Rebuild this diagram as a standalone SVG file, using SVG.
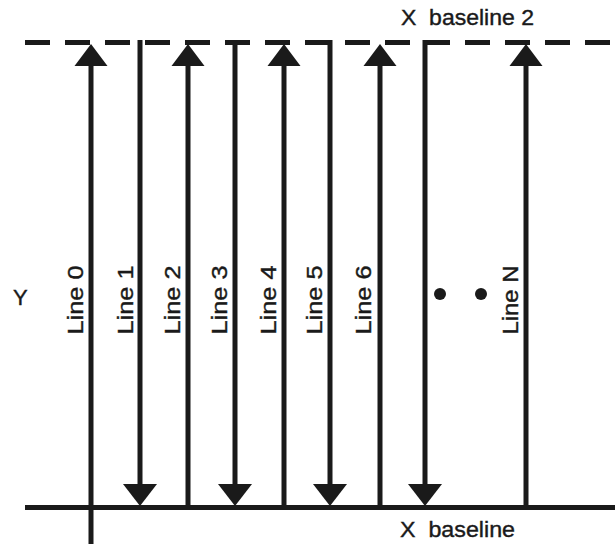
<svg xmlns="http://www.w3.org/2000/svg" width="615" height="544" viewBox="0 0 615 544">
<style>
.ln{stroke:#1a1a1a;stroke-width:5;fill:none}
.ah{fill:#1a1a1a}
.t{font-family:"Liberation Sans",Arial,sans-serif;font-size:22px;fill:#1a1a1a;stroke:#1a1a1a;stroke-width:0.4}
.lab{font-family:"Liberation Sans",Arial,sans-serif;font-size:22px;fill:#1a1a1a;stroke:#1a1a1a;stroke-width:0.4;text-anchor:middle}
</style>
<rect width="615" height="544" fill="#ffffff"/>
<g id="baselines">
<line class="ln" x1="25" y1="42.5" x2="615" y2="42.5" stroke-dasharray="25 15"/>
<line class="ln" x1="25" y1="507.5" x2="615" y2="507.5"/>
<text class="t" x="401" y="25" textLength="133" lengthAdjust="spacingAndGlyphs" xml:space="preserve">X  baseline 2</text>
<text class="t" x="400" y="537" textLength="115" lengthAdjust="spacingAndGlyphs" xml:space="preserve">X  baseline</text>
<text class="t" x="13" y="305">Y</text>
</g>
<g id="connectors">
<g id="line0"><line class="ln" x1="91" y1="544" x2="91" y2="64"/><polygon class="ah" points="91,44 74.5,66 107.5,66"/></g>
<g id="line1"><line class="ln" x1="140" y1="40" x2="140" y2="486"/><polygon class="ah" points="140,506 123,484 157,484"/></g>
<g id="line2"><line class="ln" x1="188" y1="507" x2="188" y2="64"/><polygon class="ah" points="188,44 171.5,66 204.5,66"/></g>
<g id="line3"><line class="ln" x1="235" y1="40" x2="235" y2="486"/><polygon class="ah" points="235,506 218,484 252,484"/></g>
<g id="line4"><line class="ln" x1="284" y1="507" x2="284" y2="64"/><polygon class="ah" points="284,44 267.5,66 300.5,66"/></g>
<g id="line5"><line class="ln" x1="330" y1="40" x2="330" y2="486"/><polygon class="ah" points="330,506 313,484 347,484"/></g>
<g id="line6"><line class="ln" x1="380" y1="507" x2="380" y2="64"/><polygon class="ah" points="380,44 363.5,66 396.5,66"/></g>
<g id="line7"><line class="ln" x1="425" y1="40" x2="425" y2="486"/><polygon class="ah" points="425,506 408,484 442,484"/></g>
<g id="lineN"><line class="ln" x1="526" y1="507" x2="526" y2="64"/><polygon class="ah" points="526,44 509.5,66 542.5,66"/></g>
</g>
<g id="labels">
<text class="lab" transform="translate(83,300) rotate(-90)" textLength="69" lengthAdjust="spacingAndGlyphs">Line 0</text>
<text class="lab" transform="translate(133,300) rotate(-90)" textLength="69" lengthAdjust="spacingAndGlyphs">Line 1</text>
<text class="lab" transform="translate(180,300) rotate(-90)" textLength="69" lengthAdjust="spacingAndGlyphs">Line 2</text>
<text class="lab" transform="translate(227,300) rotate(-90)" textLength="69" lengthAdjust="spacingAndGlyphs">Line 3</text>
<text class="lab" transform="translate(276,300) rotate(-90)" textLength="69" lengthAdjust="spacingAndGlyphs">Line 4</text>
<text class="lab" transform="translate(322,300) rotate(-90)" textLength="69" lengthAdjust="spacingAndGlyphs">Line 5</text>
<text class="lab" transform="translate(371,300) rotate(-90)" textLength="69" lengthAdjust="spacingAndGlyphs">Line 6</text>
<text class="lab" transform="translate(518,300) rotate(-90)" textLength="69" lengthAdjust="spacingAndGlyphs">Line N</text>
<circle class="ah" cx="440" cy="294" r="6"/>
<circle class="ah" cx="481" cy="294" r="6"/>
</g>
</svg>
